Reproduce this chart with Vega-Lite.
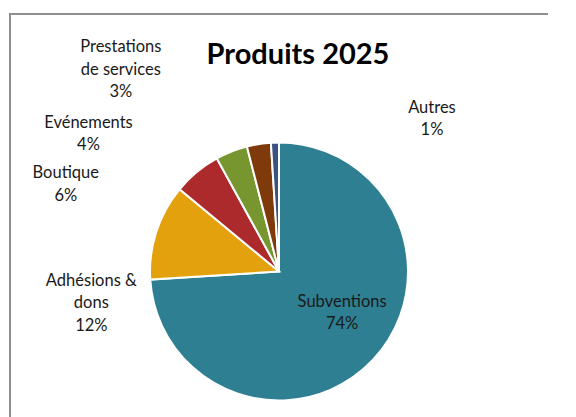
{
  "$schema": "https://vega.github.io/schema/vega-lite/v6.json",
  "width": 538,
  "height": 515,
  "autosize": "none",
  "padding": {"left": 10, "top": 14, "right": 0, "bottom": 0},
  "background": "white",
  "config": {
    "view": {"stroke": null},
    "text": {"font": "Lato", "fontSize": 16.5, "lineHeight": 22.5, "color": "#1a1a1a", "align": "center", "baseline": "middle", "lineBreak": "\n"}
  },
  "title": {
    "text": "Produits 2025",
    "font": "Lato",
    "fontSize": 29,
    "fontWeight": "bold",
    "color": "#000000",
    "anchor": "middle",
    "frame": "group",
    "offset": -57,
    "dx": 19
  },
  "data": {
    "values": [
      {"categorie": "Subventions", "valeur": 74, "ordre": 1, "label": "Subventions\n74%"},
      {"categorie": "Adhésions & dons", "valeur": 12, "ordre": 2, "label": "Adhésions &\ndons\n12%"},
      {"categorie": "Boutique", "valeur": 6, "ordre": 3, "label": "Boutique\n6%"},
      {"categorie": "Evénements", "valeur": 4, "ordre": 4, "label": "Evénements\n4%"},
      {"categorie": "Prestations de services", "valeur": 3, "ordre": 5, "label": "Prestations\nde services\n3%"},
      {"categorie": "Autres", "valeur": 1, "ordre": 6, "label": "Autres\n1%"}
    ]
  },
  "layer": [
    {
      "transform": [{"filter": "datum.ordre === 1"}],
      "mark": {"type": "rect", "filled": false, "stroke": "#8e8e8e", "strokeWidth": 2, "strokeCap": "butt", "strokeDash": [538, 1053, 515, 200]},
      "encoding": {}
    },
    {
      "mark": {"type": "arc", "outerRadius": 129, "stroke": "white", "strokeWidth": 2},
      "encoding": {
        "theta": {"field": "valeur", "type": "quantitative", "stack": true},
        "order": {"field": "ordre", "type": "quantitative"},
        "color": {
          "field": "categorie",
          "type": "nominal",
          "scale": {
            "domain": ["Subventions", "Adhésions & dons", "Boutique", "Evénements", "Prestations de services", "Autres"],
            "range": ["#2E7F92", "#E3A20D", "#AD2A2C", "#77962F", "#7F3A0B", "#3E5282"]
          },
          "legend": null
        }
      }
    },
    {
      "mark": {"type": "text", "radius": 66, "dx": 15, "dy": -15},
      "encoding": {
        "theta": {"field": "valeur", "type": "quantitative", "stack": true},
        "order": {"field": "ordre", "type": "quantitative"},
        "text": {"condition": {"test": "datum.categorie === 'Subventions'", "field": "label", "type": "nominal"}, "value": ""}
      }
    },
    {
      "mark": {"type": "text", "radius": 129, "dx": -65, "dy": 49},
      "encoding": {
        "theta": {"field": "valeur", "type": "quantitative", "stack": true},
        "order": {"field": "ordre", "type": "quantitative"},
        "text": {"condition": {"test": "datum.categorie === 'Adhésions & dons'", "field": "label", "type": "nominal"}, "value": ""}
      }
    },
    {
      "mark": {"type": "text", "radius": 129, "dx": -131, "dy": 1},
      "encoding": {
        "theta": {"field": "valeur", "type": "quantitative", "stack": true},
        "order": {"field": "ordre", "type": "quantitative"},
        "text": {"condition": {"test": "datum.categorie === 'Boutique'", "field": "label", "type": "nominal"}, "value": ""}
      }
    },
    {
      "mark": {"type": "text", "radius": 129, "dx": -143, "dy": -29},
      "encoding": {
        "theta": {"field": "valeur", "type": "quantitative", "stack": true},
        "order": {"field": "ordre", "type": "quantitative"},
        "text": {"condition": {"test": "datum.categorie === 'Evénements'", "field": "label", "type": "nominal"}, "value": ""}
      }
    },
    {
      "mark": {"type": "text", "radius": 129, "dx": -138, "dy": -97},
      "encoding": {
        "theta": {"field": "valeur", "type": "quantitative", "stack": true},
        "order": {"field": "ordre", "type": "quantitative"},
        "text": {"condition": {"test": "datum.categorie === 'Prestations de services'", "field": "label", "type": "nominal"}, "value": ""}
      }
    },
    {
      "mark": {"type": "text", "radius": 129, "dx": 157, "dy": -35},
      "encoding": {
        "theta": {"field": "valeur", "type": "quantitative", "stack": true},
        "order": {"field": "ordre", "type": "quantitative"},
        "text": {"condition": {"test": "datum.categorie === 'Autres'", "field": "label", "type": "nominal"}, "value": ""}
      }
    }
  ]
}
